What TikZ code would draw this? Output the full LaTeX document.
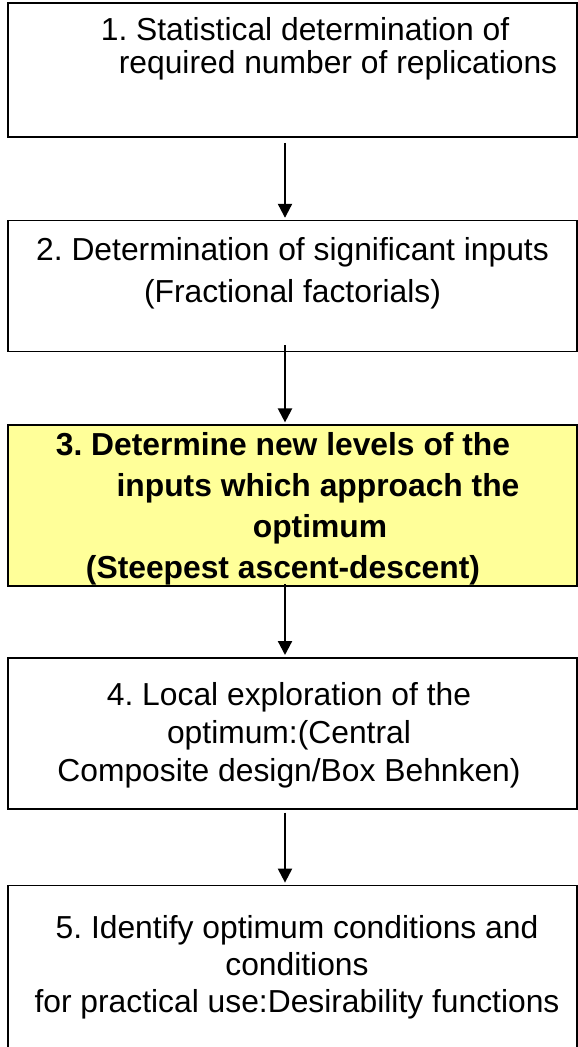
\documentclass[tikz,border=0pt]{standalone}
\usepackage{fontspec}
\setmainfont{Liberation Sans}
\usetikzlibrary{arrows.meta,positioning}
\frenchspacing

\definecolor{stepyellow}{HTML}{FFFF99}

\tikzset{
    stepbox/.style={draw, line width=1.6pt, minimum width=569pt, inner sep=0pt},
    steptext/.style={align=center, inner sep=0pt, font=\fontsize{31.8}{38}\selectfont},
    flow/.style={-{Triangle[length=14pt,width=14pt]}, line width=2.2pt, shorten >=2pt}
}

\begin{document}
\begin{tikzpicture}[x=1pt,y=-1pt,node distance=75pt]
    \path[use as bounding box, clip] (0,0) rectangle (578,1047);

    % the five steps
    \node[stepbox, minimum height=134pt]                   (s1) at (292.5,70) {};
    \node[stepbox, minimum height=131pt]                   (s2) [below=82pt of s1] {};
    \node[stepbox, minimum height=161pt, fill=stepyellow]  (s3) [below=72pt of s2] {};
    \node[stepbox, minimum height=151pt]                   (s4) [below=70pt of s3] {};
    \node[stepbox, minimum height=180pt]                   (s5) [below=75pt of s4] {};

    \node[steptext, font=\fontsize{31.8}{33}\selectfont]  (t1) [below=15pt of s1.north, xshift=12.5pt]
        {1. Statistical determination of\\ \hspace*{66pt}required number of replications};
    \node[steptext, font=\fontsize{31.8}{42}\selectfont]  (t2) [below=17pt of s2.north]
        {2. Determination of significant inputs\\ (Fractional factorials)};
    \node[steptext, font=\fontsize{31.8}{41}\selectfont\bfseries]  (t3) [below=8pt of s3.north, xshift=-9.5pt]
        {3. Determine new levels of the\\ \hspace*{70pt}inputs which approach the\\ \hspace*{74pt}optimum\\ (Steepest ascent-descent)};
    \node[steptext]  (t4) [below=25pt of s4.north, xshift=-3.5pt]
        {4. Local exploration of the\\ optimum:(Central\\ Composite design/Box Behnken)};
    \node[steptext, font=\fontsize{31.8}{37}\selectfont]  (t5) [below=31pt of s5.north, xshift=4.5pt]
        {5. Identify optimum conditions and\\ conditions\\ for practical use:Desirability functions};

    \draw[flow] ([xshift=-7.5pt,yshift=-5pt]s1.south) -- ([xshift=-7.5pt]s2.north);
    \draw[flow] ([xshift=-7.5pt,yshift=7pt]s2.south)  -- ([xshift=-7.5pt]s3.north);
    \draw[flow] ([xshift=-7.5pt,yshift=3pt]s3.south)  -- ([xshift=-7.5pt]s4.north);
    \draw[flow] ([xshift=-7.5pt,yshift=-3pt]s4.south) -- ([xshift=-7.5pt]s5.north);
\end{tikzpicture}
\end{document}
